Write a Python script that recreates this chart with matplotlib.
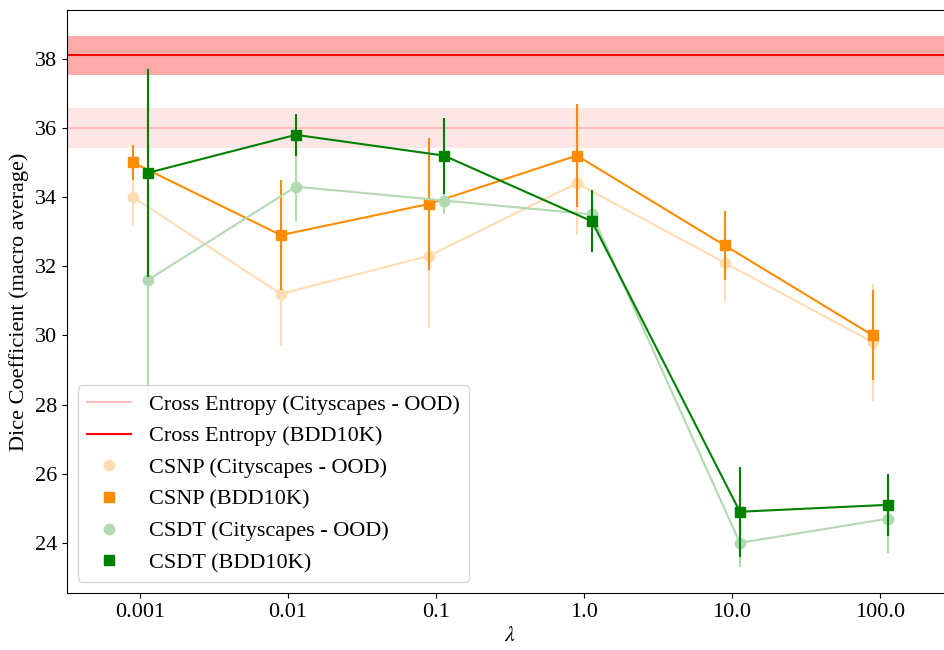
import matplotlib
matplotlib.use("Agg")
import matplotlib.pyplot as plt
import numpy as np

plt.rcParams["font.family"] = ["Liberation Serif", "DejaVu Serif"]
plt.rcParams["mathtext.fontset"] = "stix"

lambdas = [0.001, 0.01, 0.1, 1.0, 10.0, 100.0]
lambda_labels = ["0.001", "0.01", "0.1", "1.0", "10.0", "100.0"]

# cross entropy baselines (mean, std)
ce_city_mean, ce_city_std = 36.0, 0.57
ce_bdd_mean, ce_bdd_std = 38.1, 0.57

csnp_city = [34.0, 31.2, 32.3, 34.4, 32.1, 29.8]
csnp_city_err = [0.8, 1.5, 2.1, 1.5, 1.1, 1.7]
csnp_bdd = [35.0, 32.9, 33.8, 35.2, 32.6, 30.0]
csnp_bdd_err = [0.5, 1.6, 1.9, 1.5, 1.0, 1.3]

csdt_city = [31.6, 34.3, 33.9, 33.5, 24.0, 24.7]
csdt_city_err = [3.6, 1.0, 0.4, 0.4, 0.7, 1.0]
csdt_bdd = [34.7, 35.8, 35.2, 33.3, 24.9, 25.1]
csdt_bdd_err = [3.0, 0.6, 1.1, 0.9, 1.3, 0.9]

x = np.array(lambdas)
x_csnp = x * 0.895
x_csdt = x * 1.13

FS = 16

fig = plt.figure(figsize=(9.44, 6.5), dpi=100)
ax = fig.add_axes([67 / 944, 57 / 650, 886 / 944, 583 / 650])
ax.set_xscale("log")

ax.axhspan(ce_city_mean - ce_city_std, ce_city_mean + ce_city_std, color="#ffe6e6", lw=0)
ax.axhline(ce_city_mean, color="#ffbfbf", lw=1.5, label="Cross Entropy (Cityscapes - OOD)")
ax.axhspan(ce_bdd_mean - ce_bdd_std, ce_bdd_mean + ce_bdd_std, color="#ffaaaa", lw=0)
ax.axhline(ce_bdd_mean, color="red", lw=1.5, label="Cross Entropy (BDD10K)")

series = [
    (x_csnp, csnp_city, csnp_city_err, "#ffdcb3", "o", "CSNP (Cityscapes - OOD)"),
    (x_csnp, csnp_bdd, csnp_bdd_err, "darkorange", "s", "CSNP (BDD10K)"),
    (x_csdt, csdt_city, csdt_city_err, "#b3d9b3", "o", "CSDT (Cityscapes - OOD)"),
    (x_csdt, csdt_bdd, csdt_bdd_err, "green", "s", "CSDT (BDD10K)"),
]
for xs, ys, es, c, m, lab in series:
    ax.plot(xs, ys, color=c, lw=1.5)
    ax.errorbar(xs, ys, yerr=es, fmt="none", ecolor=c, elinewidth=1.5, capsize=0)
    ax.plot(xs, ys, m, color=c, ms=7.5, ls="none", label=lab)

ax.set_xlim(10 ** -3.493, 10 ** 2.493)
ax.set_ylim(22.55, 39.41)
ax.set_xticks(lambdas)
ax.set_xticklabels(lambda_labels)
ax.xaxis.set_minor_locator(matplotlib.ticker.NullLocator())
ax.set_yticks([24, 26, 28, 30, 32, 34, 36, 38])
ax.tick_params(labelsize=FS)
ax.set_xlabel(r"$\lambda$", fontsize=FS)
ax.set_ylabel("Dice Coefficient (macro average)", fontsize=FS)
ax.legend(loc="lower left", fontsize=FS)

fig.savefig("out.png", dpi=100)
